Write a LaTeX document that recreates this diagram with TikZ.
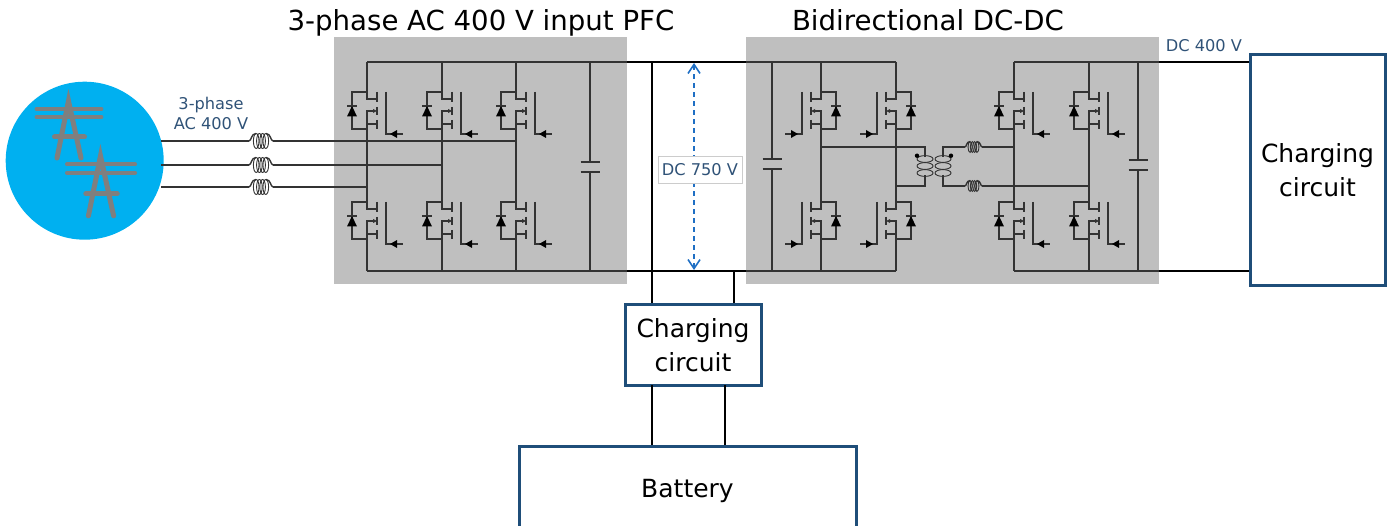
\documentclass[tikz,border=0pt]{standalone}
\usepackage{fontspec}
\setmainfont{DejaVu Sans}
\usepackage{tikz}
\usetikzlibrary{arrows.meta}
\definecolor{panelgray}{HTML}{BFBFBF}
\definecolor{wiregray}{HTML}{333333}
\definecolor{boxblue}{HTML}{1F4E79}
\definecolor{labelblue}{HTML}{2F5277}
\definecolor{gridblue}{HTML}{00B0F0}
\definecolor{pylongray}{HTML}{7F7F7F}
\definecolor{dimblue}{HTML}{1F6FC4}
\tikzset{
	panel/.style={fill=panelgray, inner sep=0pt},
	unitbox/.style={draw=boxblue, line width=3pt, fill=white, align=center, inner sep=0pt, font=\fontsize{25}{34}\selectfont},
	wire/.style={draw=wiregray, line width=1.4pt},
	bus/.style={draw=black, line width=2.2pt},
	title/.style={font=\fontsize{27.6}{32}\selectfont, inner sep=0pt, anchor=base},
	volt/.style={text=labelblue, font=\fontsize{16.2}{19.5}\selectfont, align=center, inner sep=0pt},
	igbt/.pic={
		\coordinate (-drain) at (0,0);
		\coordinate (-src) at (0,37);
		\draw[wire] (0,0) -- (0,7) -- (10,7);
		\draw[wire] (0,37) -- (0,19) -- (7,19);
		\draw[wire] (0,32) -- (10,32);
		\draw[wire] (10,0) -- (10,10) (10,15) -- (10,23) (10,28) -- (10,37);
		\fill[wiregray] (10,19) -- (6,17) -- (6,21) -- cycle;
		\draw[wire] (0,0) -- (-15,0) -- (-15,37) -- (0,37);
		\draw[wire] (-20,14) -- (-10,14);
		\fill[black] (-15,14) -- (-20,24.5) -- (-10,24.5) -- cycle;
		\draw[wire] (19,0) -- (19,42) -- (36,42);
		\fill[black] (23,42) -- (30,38) -- (30,46) -- cycle;
	},
	choke/.pic={
		\coordinate (-in) at (-12,0);
		\coordinate (-out) at (12,0);
		\foreach \i in {-4.8,-1.6,1.6,4.8} {
			\draw[draw=wiregray, line width=0.9pt] (\i,0) ellipse (2.8 and 7.5);
		}
		\draw[wire] (-12,0) .. controls (-9.5,0) and (-10,-7.5) .. (-5,-7.5);
		\draw[wire] (12,0) .. controls (9.5,0) and (10,-7.5) .. (5,-7.5);
	},
	winding/.pic={
		\foreach \i in {-7,0,7} {
			\draw[draw=wiregray, line width=0.9pt] (0,\i) ellipse (8 and 3.4);
		}
	},
	pylon/.pic={
		\draw[pylongray, line width=5pt, line cap=round] (-11.5,57) -- (0,0) -- (12.5,57);
		\draw[pylongray, line width=5pt, line cap=round] (-14,36) -- (16,36);
		\draw[pylongray, line width=3.8pt, line cap=round] (-32,8) -- (33,8) (-32,16) -- (33,16);
	},
}
\begin{document}
\begin{tikzpicture}[x=1pt,y=-1pt]
	\useasboundingbox (0,0) rectangle (1391,526);
	\node[panel, minimum width=293pt, minimum height=247pt] (pfcbox) at (480.5,160.5) {};
	\node[panel, minimum width=413pt, minimum height=247pt] (dcbox) at (952.5,160.5) {};
	\node[title] (pfctitle) at (481,31) {3-phase AC 400 V input PFC};
	\node[title] (dctitle) at (928,31) {Bidirectional DC-DC};
	\node[volt] (dcout) at (1204,46) {DC 400 V};
	\node[volt] (aclabel) at (211,113.5) {3-phase\\AC 400 V};
	% grid feed
	\node[circle, fill=gridblue, minimum size=158pt, inner sep=0pt] (grid) at (84.7,160.7) {};
	\pic at (68.5,101) {pylon};
	\pic at (100.5,156) [scale=1.05] {pylon};
	% units
	\node[unitbox, minimum width=135pt, minimum height=231pt] (chgright) at (1317.5,170.5) {Charging\\circuit};
	\node[unitbox, minimum width=136pt, minimum height=80pt] (chgmid) at (693,345) {Charging\\circuit};
	\node[unitbox, minimum width=337pt, minimum height=90pt] (battery) at (687.5,491) {Battery};
	\coordinate (bustop) at (367,62);
	\coordinate (busbot) at (367,271);
	% PFC legs
	\foreach \leg/\x in {pa/367, pb/442, pc/516} {
		\pic (\leg t) at (\x,92) {igbt};
		\pic (\leg b) at (\x,202) {igbt};
		\draw[wire] (\leg t-drain |- bustop) -- (\leg t-drain);
		\draw[wire] (\leg t-src) -- (\leg b-drain);
		\draw[wire] (\leg b-src) -- (\leg b-drain |- busbot);
	}
	% bidirectional legs
	\foreach \leg/\x in {da/821, db/896} {
		\pic (\leg t) at (\x,92) [xscale=-1] {igbt};
		\pic (\leg b) at (\x,202) [xscale=-1] {igbt};
		\draw[wire] (\leg t-drain |- bustop) -- (\leg t-drain);
		\draw[wire] (\leg t-src) -- (\leg b-drain);
		\draw[wire] (\leg b-src) -- (\leg b-drain |- busbot);
	}
	\foreach \leg/\x in {ea/1014, eb/1089} {
		\pic (\leg t) at (\x,92) {igbt};
		\pic (\leg b) at (\x,202) {igbt};
		\draw[wire] (\leg t-drain |- bustop) -- (\leg t-drain);
		\draw[wire] (\leg t-src) -- (\leg b-drain);
		\draw[wire] (\leg b-src) -- (\leg b-drain |- busbot);
	}
	% DC rails
	\draw[wire] (bustop) -- (pfcbox.east |- bustop);
	\draw[wire] (busbot) -- (pfcbox.east |- busbot);
	\draw[wire] (dcbox.west |- bustop) -- (dbt-drain |- bustop);
	\draw[wire] (dcbox.west |- busbot) -- (dbt-drain |- busbot);
	\draw[wire] (eat-drain |- bustop) -- (dcbox.east |- bustop);
	\draw[wire] (eat-drain |- busbot) -- (dcbox.east |- busbot);
	\draw[bus] (pfcbox.east |- bustop) -- (dcbox.west |- bustop);
	\draw[bus] (pfcbox.east |- busbot) -- (dcbox.west |- busbot);
	\draw[bus] (dcbox.east |- bustop) -- (chgright.west |- bustop);
	\draw[bus] (dcbox.east |- busbot) -- (chgright.west |- busbot);
	% capacitors
	\foreach \capn/\x/\y in {capa/590/162, capb/772/159, capc/1138/160} {
		\coordinate (\capn up) at (\x,\y);
		\coordinate (\capn dn) at (\x,\y+10);
		\draw[wire] (\capn up |- bustop) -- (\capn up);
		\draw[wire] (\capn dn) -- (\capn dn |- busbot);
		\draw[wire] (\x-9.5,\y) -- (\x+9.5,\y) (\x-9.5,\y+10) -- (\x+9.5,\y+10);
	}
	% AC input
	\foreach \ph/\y/\leg in {1/141/pct, 2/165/pbt, 3/187/pat} {
		\coordinate (feed\ph) at (161,\y);
		\pic (ind\ph) at (261,\y) {choke};
		\draw[wire] (feed\ph) -- (ind\ph-in);
		\draw[wire] (ind\ph-out) -- (\leg-drain |- ind\ph-out);
	}
	% transformer
	\coordinate (pritop) at (925,147);
	\coordinate (pribot) at (925,186);
	\coordinate (sectop) at (943,147);
	\coordinate (secbot) at (943,186);
	\pic at (925,166) {winding};
	\pic at (943,166) {winding};
	\fill (917,155.7) circle (2.2);
	\fill (951,155.7) circle (2.2);
	\pic (indu) at (973.5,147) [scale=0.72] {choke};
	\pic (indv) at (973.5,186) [scale=0.72] {choke};
	\draw[wire] (dat-src |- pritop) -- (pritop) -- (925,157);
	\draw[wire] (dbt-src |- pribot) -- (pribot) -- (925,175);
	\draw[wire] (943,157) -- (sectop) -- (indu-in);
	\draw[wire] (943,175) -- (secbot) -- (indv-in);
	\draw[wire] (indu-out) -- (eat-src |- indu-out);
	\draw[wire] (indv-out) -- (ebt-src |- indv-out);
	% middle tap and battery
	\coordinate (tapa) at (652,62);
	\coordinate (tapb) at (734,271);
	\coordinate (bata) at (652,385);
	\coordinate (batb) at (725,385);
	\draw[bus] (tapa) -- (tapa |- chgmid.north);
	\draw[bus] (tapb) -- (tapb |- chgmid.north);
	\draw[bus] (bata) -- (bata |- battery.north);
	\draw[bus] (batb) -- (batb |- battery.north);
	% bus voltage
	\coordinate (dimtop) at (694,63);
	\coordinate (dimbot) at (694,270);
	\draw[draw=dimblue, line width=1.6pt, dash pattern=on 5pt off 4pt, {Straight Barb[length=9pt,width=12pt]}-{Straight Barb[length=9pt,width=12pt]}] (dimtop) -- (dimbot);
	\node[volt, fill=white, draw=black!20, minimum width=84pt, minimum height=27pt] (dimtag) at (700,169.5) {DC 750 V};
\end{tikzpicture}
\end{document}
